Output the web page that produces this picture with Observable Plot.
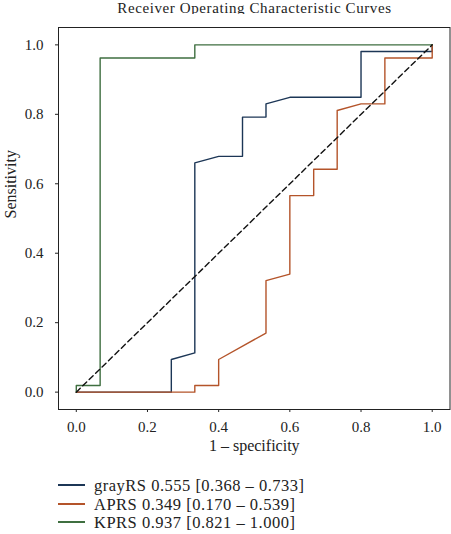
<!DOCTYPE html>
<html>
<head>
<meta charset="utf-8">
<script src="https://cdn.jsdelivr.net/npm/d3@7"></script>
<script src="https://cdn.jsdelivr.net/npm/@observablehq/plot@0.6"></script>
<style>
  html, body { margin: 0; padding: 0; background: #fff; }
  body { width: 451px; height: 534px; position: relative; overflow: hidden;
         font-family: "Liberation Serif", "DejaVu Serif", serif; color: #222; }
  #title { position: absolute; left: 58px; width: 393px; top: 0; height: 17px; line-height: 16.6px;
           font-size: 15px; letter-spacing: 0.6px; text-align: center; white-space: nowrap; }
  #chart { position: absolute; left: 0; top: 14px; }
  .sw { position: absolute; left: 58px; width: 27px; height: 1.6px; }
  .lab { position: absolute; left: 94px; height: 18.3px; line-height: 18.3px; white-space: nowrap;
         font-size: 16.5px; letter-spacing: 0.5px; }
</style>
</head>
<body>
<div id="title">Receiver Operating Characteristic Curves</div>
<div id="chart"></div>
<script>
// Series names, AUC and confidence intervals
const seriesNames = ["grayRS", "APRS", "KPRS"];
const aucValues = ["0.555", "0.349", "0.937"];
const ciLow = ["0.368", "0.170", "0.821"];
const ciHigh = ["0.733", "0.539", "1.000"];
const seriesColors = ["#1c3656", "#b4542a", "#3f6f40"];

// ROC curve points (1 - specificity, sensitivity)
const grayFpr = [0, 0.267, 0.267, 0.333, 0.333, 0.4, 0.467, 0.467, 0.533, 0.533, 0.6, 0.8, 0.8, 1.0, 1.0];
const grayTpr = [0, 0, 0.094, 0.113, 0.660, 0.679, 0.679, 0.792, 0.792, 0.830, 0.849, 0.849, 0.981, 0.981, 1.0];

const apFpr = [0, 0.333, 0.333, 0.4, 0.4, 0.533, 0.533, 0.6, 0.6, 0.667, 0.667, 0.733, 0.733, 0.8, 0.867, 0.867, 1.0, 1.0];
const apTpr = [0, 0, 0.019, 0.019, 0.094, 0.170, 0.321, 0.340, 0.566, 0.566, 0.642, 0.642, 0.811, 0.830, 0.830, 0.962, 0.962, 1.0];

const kpFpr = [0, 0, 0.067, 0.067, 0.333, 0.333, 1.0];
const kpTpr = [0, 0.019, 0.019, 0.962, 0.962, 1.0, 1.0];

const diagX = [0, 1];
const diagY = [0, 1];

const xTicks = [0, 0.2, 0.4, 0.6, 0.8, 1.0];
const yTicks = [0, 0.2, 0.4, 0.6, 0.8, 1.0];
const xLabel = "1 – specificity";
const yLabel = "Sensitivity";

const toPts = (xs, ys) => xs.map((x, i) => ({x, y: ys[i]}));
const curves = [toPts(grayFpr, grayTpr), toPts(apFpr, apTpr), toPts(kpFpr, kpTpr)];

const chart = Plot.plot({
  width: 451,
  height: 446,
  marginLeft: 58,
  marginRight: 1.5,
  marginTop: 13,
  marginBottom: 51,
  style: {fontFamily: "'Liberation Serif', 'DejaVu Serif', serif", fontSize: "15px", color: "#222", background: "#fff", overflow: "visible"},
  x: {domain: [-0.05, 1.05]},
  y: {domain: [-0.05, 1.05]},
  marks: [
    Plot.frame({stroke: "#222", strokeWidth: 1}),
    Plot.axisX({ticks: xTicks, tickFormat: d3.format(".1f"), tickSize: 3, tickPadding: 9, label: null}),
    Plot.axisY({ticks: yTicks, tickFormat: d3.format(".1f"), tickSize: 3, tickPadding: 12, label: null}),
    ...curves.map((c, i) => Plot.line(c, {x: "x", y: "y", stroke: seriesColors[i], strokeWidth: 1.4, curve: "linear"})),
    Plot.line(toPts(diagX, diagY), {x: "x", y: "y", stroke: "#111", strokeWidth: 1.4, strokeDasharray: "5.5,3.5"}),
    Plot.text([xLabel], {frameAnchor: "bottom", lineAnchor: "bottom", dy: 41, fontSize: 16, fill: "#222"}),
    Plot.text([yLabel], {frameAnchor: "left", rotate: -90, dx: -48, fontSize: 16, fill: "#222"})
  ]
});
document.getElementById("chart").appendChild(chart);

seriesNames.forEach((name, i) => {
  const rowTop = 476 + i * 18.35;
  const sw = document.createElement("div");
  sw.className = "sw";
  sw.style.top = Math.round(rowTop + 8.2) + "px";
  sw.style.backgroundColor = seriesColors[i];
  const lab = document.createElement("div");
  lab.className = "lab";
  lab.style.top = (rowTop + 1.2) + "px";
  lab.textContent = `${name} ${aucValues[i]} [${ciLow[i]} – ${ciHigh[i]}]`;
  document.body.appendChild(sw);
  document.body.appendChild(lab);
});
</script>
</body>
</html>
